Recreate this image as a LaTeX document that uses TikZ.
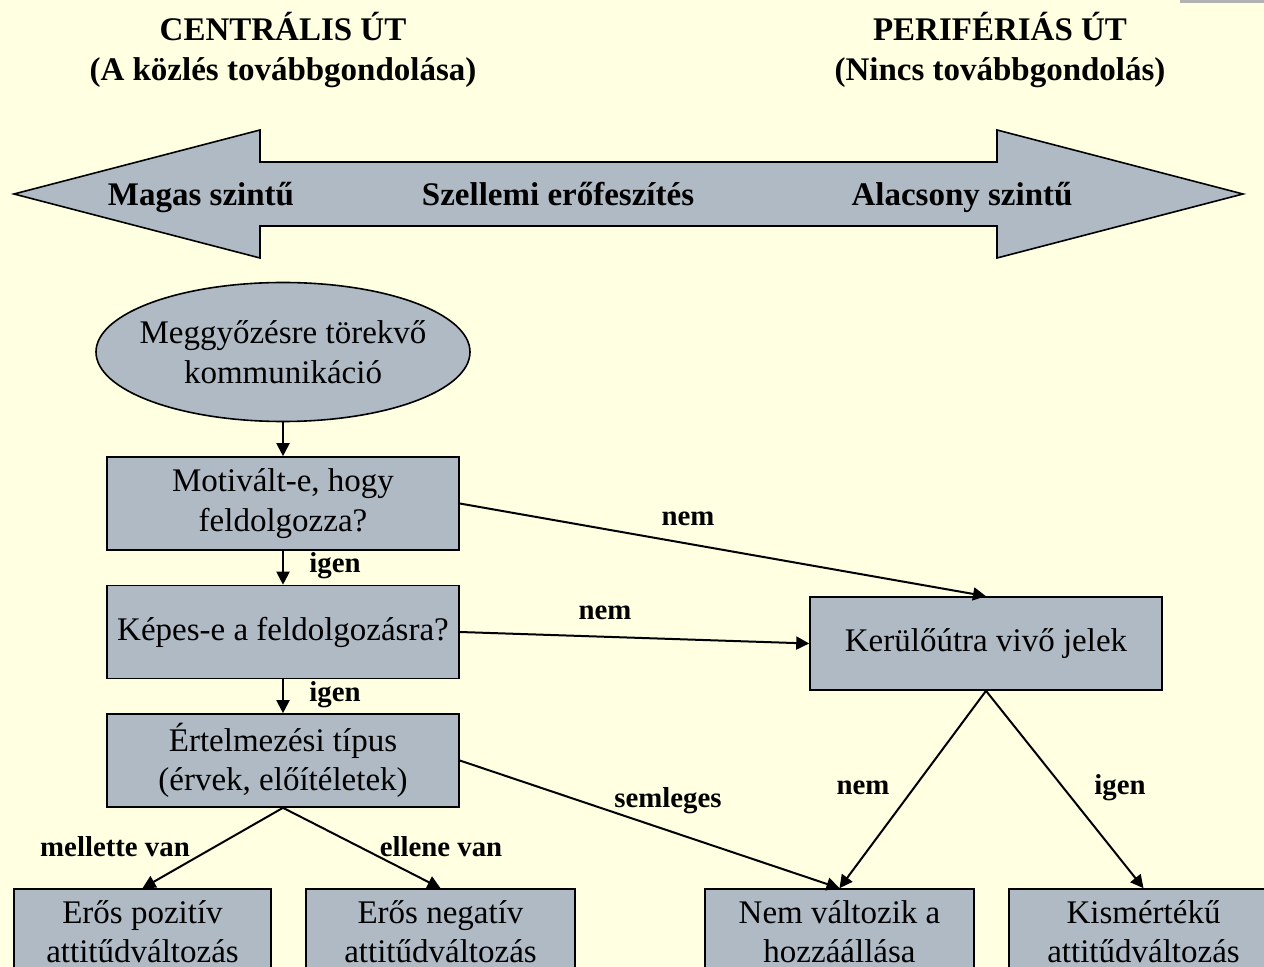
\documentclass[tikz,border=0pt]{standalone}
\usepackage{fontspec}
\setmainfont{Liberation Serif}
\usetikzlibrary{shapes.geometric,arrows.meta}
\definecolor{paper}{RGB}{255,255,225}
\definecolor{boxfill}{RGB}{175,186,196}

\begin{document}
\begin{tikzpicture}[
 x=0.5pt,y=-0.5pt,
 >={Triangle[length=6.5pt,width=6.5pt]},
 every node/.style={font=\fontsize{16.5}{19.8}\selectfont},
 box/.style={draw,fill=boxfill,line width=0.8pt,align=center,inner sep=2pt,
  minimum width=176pt,minimum height=46.5pt},
 outcome/.style={box,minimum width=134.5pt,minimum height=42.5pt},
 head/.style={font=\bfseries\fontsize{16.5}{20}\selectfont,align=center},
 answer/.style={font=\bfseries\fontsize{14.4}{17}\selectfont},
 link/.style={->,line width=1pt}
]
 \useasboundingbox (0,0) rectangle (1264,967);
 \fill[paper] (0,0) rectangle (1264,967);
 \clip (0,0) rectangle (1264,967);
 \fill[black!30] (1180,0) rectangle (1264,3);

 % the two routes
 \node[head] (central) at (283,50) {CENTRÁLIS ÚT\\(A közlés továbbgondolása)};
 \node[head] (peripheral) at (1000,50) {PERIFÉRIÁS ÚT\\(Nincs továbbgondolás)};

 % effort scale as a double arrow
 \draw[fill=boxfill,line width=0.8pt]
  (14,194) -- (260,130) -- (260,162) -- (997,162) -- (997,130)
  -- (1243,194) -- (997,258) -- (997,226) -- (260,226) -- (260,258) -- cycle;
 \node[head,anchor=base] (high) at (201,206) {Magas szintű};
 \node[head,anchor=base] (effort) at (558,206) {Szellemi erőfeszítés};
 \node[head,anchor=base] (low) at (962,206) {Alacsony szintű};

 \node[ellipse,draw,fill=boxfill,line width=0.8pt,minimum width=187pt,
  minimum height=69.5pt,inner xsep=-7pt,inner ysep=0pt,align=center] (comm)
  at (283,352) {Meggyőzésre törekvő\\kommunikáció};

 \node[box] (motiv) at (283,503.5) {Motivált-e, hogy\\feldolgozza?};
 \node[box] (able) at (283,632) {Képes-e a feldolgozásra?};
 \node[box] (type) at (283,760.5) {Értelmezési típus\\(érvek, előítéletek)};
 \node[box] (cue) at (986,643.5) {Kerülőútra vivő jelek};

 % outcomes, cut off by the lower edge
 \node[outcome,minimum width=128.5pt] (pos) at (142.5,931.5) {Erős pozitív\\attitűdváltozás};
 \node[outcome] (neg) at (440.5,931.5) {Erős negatív\\attitűdváltozás};
 \node[outcome] (same) at (839.5,931.5) {Nem változik a\\hozzáállása};
 \node[outcome] (small) at (1143.5,931.5) {Kismértékű\\attitűdváltozás};

 \draw[link] (comm) -- (motiv);
 \draw[link] (motiv) -- (able);
 \draw[link] (able) -- (type);
 \draw[link] (motiv.east) -- (cue.north);
 \draw[link] (able.east) -- (cue.west);
 \draw[link] (type.east) -- (same.north);
 \draw[link] (type.south) -- (pos.north);
 \draw[link] (type.south) -- (neg.north);
 \draw[link] (cue.south) -- (same.north);
 \draw[link] (cue.south) -- (small.north);

 \node[answer] (yes1) at (335,566) {igen};
 \node[answer] (yes2) at (335,695) {igen};
 \node[answer] (no1) at (688,519) {nem};
 \node[answer] (no2) at (605,613) {nem};
 \node[answer] (neutral) at (668,801) {semleges};
 \node[answer] (pro) at (115,847) {mellette van};
 \node[answer] (contra) at (441,847) {ellene van};
 \node[answer] (no3) at (863,788) {nem};
 \node[answer] (yes3) at (1120,788) {igen};
\end{tikzpicture}
\end{document}
